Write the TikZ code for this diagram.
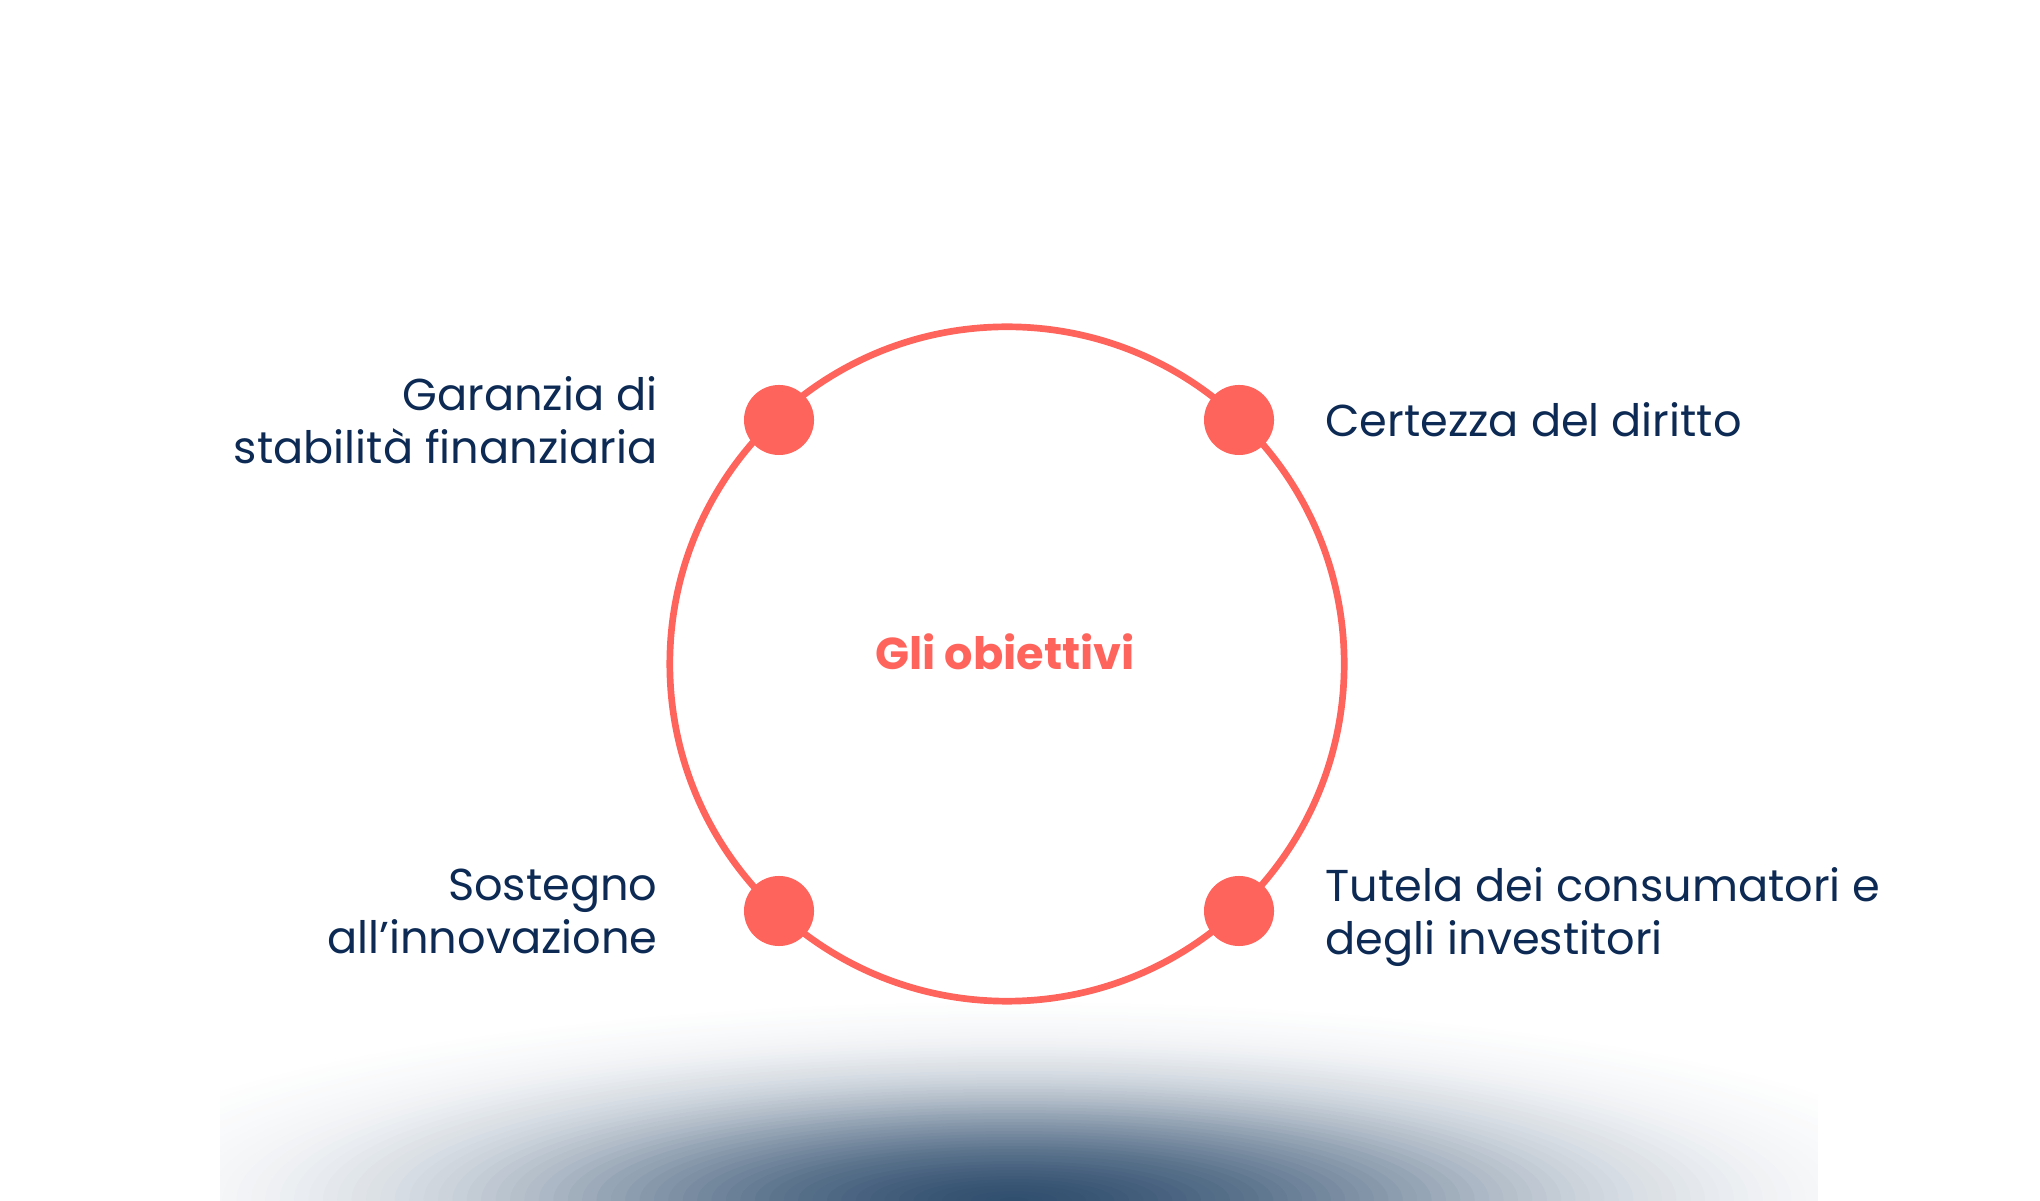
\documentclass[tikz,border=0pt]{standalone}
\usepackage{fontspec}
\setmainfont{Poppins}
\usetikzlibrary{positioning}
\definecolor{coral}{RGB}{255,100,92}
\definecolor{ink}{RGB}{12,42,84}
\definecolor{haze}{RGB}{25,58,94}

\begin{document}
\begin{tikzpicture}[x=0.01cm,y=0.01cm]
		\tikzstyle{Ring}	= [circle, draw=coral, line width=1.9pt, minimum size=6.74cm, inner sep=0pt]
		\tikzstyle{Dot}		= [circle, fill=coral, minimum size=0.7cm, inner sep=0pt]
		\tikzstyle{Goal}	= [text=ink, font=\fontsize{12.7}{15.2}\selectfont, inner sep=0pt, text depth=0pt]
		\tikzstyle{Title}	= [text=coral, font=\fontsize{12.7}{15.2}\selectfont\bfseries, inner sep=0pt]

		\useasboundingbox (0,0) rectangle (2040,1200);

		% soft glow at the bottom, built from thin layers
		\begin{scope}
			\clip (220,0) rectangle (1818,250);
			\foreach \ry in {213,210,...,3} {
				\pgfmathsetmacro{\rx}{4.8*\ry}
				\pgfmathsetmacro{\dd}{exp(0.83-(\ry-3)/111-((\ry-3)/112)^2)-exp(0.83-\ry/111-(\ry/112)^2)}
				\pgfmathsetmacro{\fo}{1-exp(-\dd)}
				\fill[haze, fill opacity=\fo] (1014,0) ellipse [x radius=\rx, y radius=\ry];
			}
		\end{scope}

		\node (ring) at (1007,536) [Ring] {};
		\node (title) at (1005,548) [Title] {Gli obiettivi};

		\node (dUL) at (779,780) [Dot] {};
		\node (dUR) at (1239,780) [Dot] {};
		\node (dLL) at (779,289) [Dot] {};
		\node (dLR) at (1239,289) [Dot] {};

		\node (gStab) [Goal, align=right, left=0.85cm of dUL] {Garanzia di\\stabilità finanziaria};
		\node (gLaw) [Goal, align=left, right=0.5cm of dUR] {Certezza del diritto};
		\node (gInno) [Goal, align=right, left=0.85cm of dLL] {Sostegno\\all’innovazione};
		\node (gCons) [Goal, align=left, right=0.5cm of dLR] {Tutela dei consumatori e\\degli investitori};
	\end{tikzpicture}
\end{document}
